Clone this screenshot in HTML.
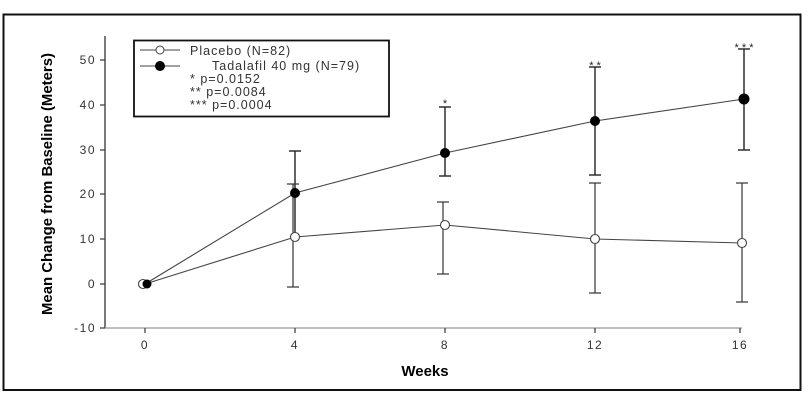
<!DOCTYPE html>
<html><head><style>body{margin:0;background:#fff}svg{display:block}text{font-family:"Liberation Sans",sans-serif}</style></head><body>
<svg width="808" height="405" viewBox="0 0 808 405" xmlns="http://www.w3.org/2000/svg">
<rect x="3.5" y="14.5" width="797" height="375.5" fill="#fff" stroke="#111" stroke-width="2"/>
<g stroke="#333" stroke-width="1.3" fill="none">
<line x1="105" y1="36" x2="105" y2="328"/>
<line x1="105" y1="328" x2="742" y2="328" stroke="#999"/>
<g stroke="#444">
<line x1="100" y1="60" x2="105" y2="60"/><line x1="100" y1="105" x2="105" y2="105"/><line x1="100" y1="150" x2="105" y2="150"/><line x1="100" y1="194" x2="105" y2="194"/><line x1="100" y1="239" x2="105" y2="239"/><line x1="100" y1="284" x2="105" y2="284"/><line x1="100" y1="328" x2="105" y2="328"/>
<line x1="145" y1="328" x2="145" y2="333"/><line x1="295" y1="328" x2="295" y2="333"/><line x1="445" y1="328" x2="445" y2="333"/><line x1="595" y1="328" x2="595" y2="333"/><line x1="740" y1="328" x2="740" y2="333"/>
</g>
</g>
<g font-size="12" fill="#333" text-anchor="end" letter-spacing="1.5">
<text x="96" y="64">50</text><text x="96" y="109">40</text><text x="96" y="154">30</text><text x="96" y="198">20</text><text x="96" y="243">10</text><text x="96" y="288">0</text><text x="96" y="332">-10</text>
</g>
<g font-size="12" fill="#333" text-anchor="middle" letter-spacing="1.5">
<text x="145" y="349">0</text><text x="295" y="349">4</text><text x="445" y="349">8</text><text x="595" y="349">12</text><text x="740" y="349">16</text>
</g>
<text x="425" y="376" font-size="15" font-weight="bold" text-anchor="middle">Weeks</text>
<text transform="translate(52,184) rotate(-90)" font-size="15" font-weight="bold" text-anchor="middle" textLength="262" lengthAdjust="spacingAndGlyphs">Mean Change from Baseline (Meters)</text>
<g stroke="#222" stroke-width="1.4">
<line x1="295" y1="151" x2="295" y2="237"/><line x1="289" y1="151" x2="301" y2="151"/>
<line x1="445" y1="107" x2="445" y2="176"/><line x1="439" y1="107" x2="451" y2="107"/><line x1="439" y1="176" x2="451" y2="176"/>
<line x1="595" y1="67" x2="595" y2="175"/><line x1="589" y1="67" x2="601" y2="67"/><line x1="589" y1="175" x2="601" y2="175"/>
<line x1="744" y1="49" x2="744" y2="150"/><line x1="738" y1="49" x2="750" y2="49"/><line x1="738" y1="150" x2="750" y2="150"/>
</g>
<g stroke="#333" stroke-width="1.2">
<line x1="293" y1="184" x2="293" y2="287"/><line x1="287" y1="184" x2="299" y2="184"/><line x1="287" y1="287" x2="299" y2="287"/>
<line x1="443" y1="202" x2="443" y2="274"/><line x1="437" y1="202" x2="449" y2="202"/><line x1="437" y1="274" x2="449" y2="274"/>
<line x1="595" y1="183" x2="595" y2="293"/><line x1="589" y1="183" x2="601" y2="183"/><line x1="589" y1="293" x2="601" y2="293"/>
<line x1="742" y1="183" x2="742" y2="302"/><line x1="736" y1="183" x2="748" y2="183"/><line x1="736" y1="302" x2="748" y2="302"/>
</g>
<polyline points="145,284 295,237 445,225 595,239 742,243" fill="none" stroke="#444" stroke-width="1.1"/>
<polyline points="145,284 295,193 445,153 595,121 744,99" fill="none" stroke="#444" stroke-width="1.1"/>
<g fill="#fff" stroke="#444" stroke-width="1.1">
<circle cx="143" cy="284" r="4.5"/><circle cx="295" cy="237" r="4.5"/><circle cx="445" cy="225" r="4.5"/><circle cx="595" cy="239" r="4.5"/><circle cx="742" cy="243" r="4.5"/>
</g>
<g fill="#000">
<circle cx="147" cy="284" r="4.5"/><circle cx="295" cy="193" r="5"/><circle cx="445" cy="153" r="5"/><circle cx="595" cy="121" r="5"/><circle cx="744" cy="99" r="5.5"/>
</g>
<g font-size="11" fill="#222" text-anchor="middle">
<text x="445" y="107">*</text><text x="595" y="69">* *</text><text x="744" y="51">* * *</text>
</g>
<rect x="134" y="40.5" width="255" height="76" fill="#fff" stroke="#111" stroke-width="1.8"/>
<line x1="140" y1="50" x2="180" y2="50" stroke="#444"/><circle cx="160" cy="50" r="4" fill="#fff" stroke="#444"/>
<line x1="140" y1="66" x2="180" y2="66" stroke="#444"/><circle cx="160" cy="66" r="5" fill="#000"/>
<g font-size="12.5" fill="#333" letter-spacing="1">
<text x="190" y="55">Placebo (N=82)</text>
<text x="212" y="70">Tadalafil  40 mg (N=79)</text>
<text x="190" y="83">*    p=0.0152</text>
<text x="190" y="96">**   p=0.0084</text>
<text x="190" y="109">***  p=0.0004</text>
</g>
</svg>
</body></html>
